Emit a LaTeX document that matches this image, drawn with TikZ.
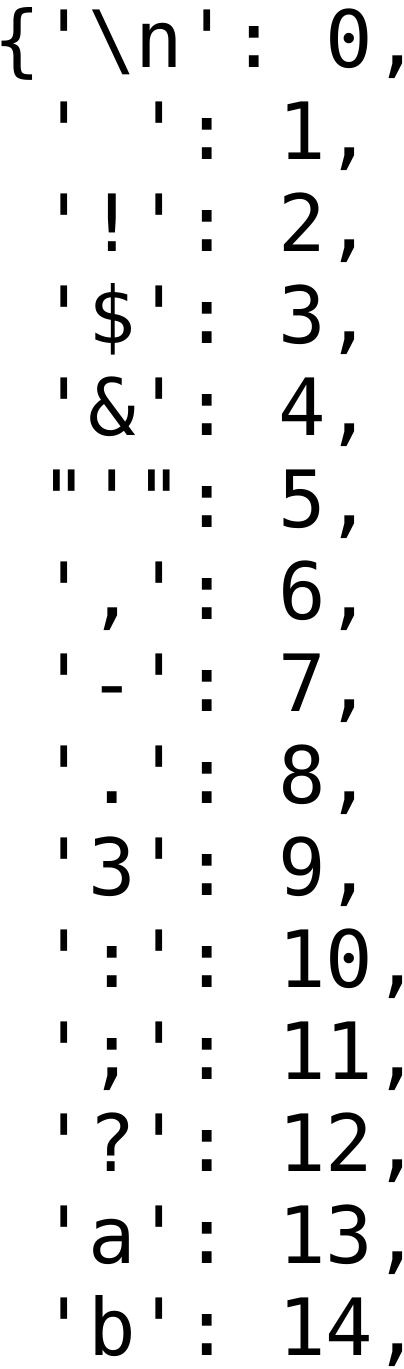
\documentclass[tikz,border=0pt]{standalone}
\usepackage{fontspec}
\setmonofont{DejaVu Sans Mono}
\usepackage{tikz}

\begin{document}
\begin{tikzpicture}[x=0.25pt, y=-0.25pt,
  entry/.style={anchor=base west, inner sep=0pt, font=\fontsize{19.75}{23}\selectfont\ttfamily}]
\useasboundingbox (0,0) rectangle (404,1369);

% first line with the opening brace
\node[entry] (k1) at (-7.75,68) {\{'\textbackslash n': 0,};

% remaining entries, one column in
\foreach \k/\v [count=\i from 2] in {{' '}/1, {'!'}/2, {'\$'}/3, {'\&'}/4, {"'"}/5, {','}/6, {'-'}/7, {'.'}/8, {'3'}/9, {':'}/10, {';'}/11, {'?'}/12, {'a'}/13, {'b'}/14} {
    \node[entry] (k\i) at (39.75, 68+\v*91.93) {\k: \v,};
}

\end{tikzpicture}
\end{document}
